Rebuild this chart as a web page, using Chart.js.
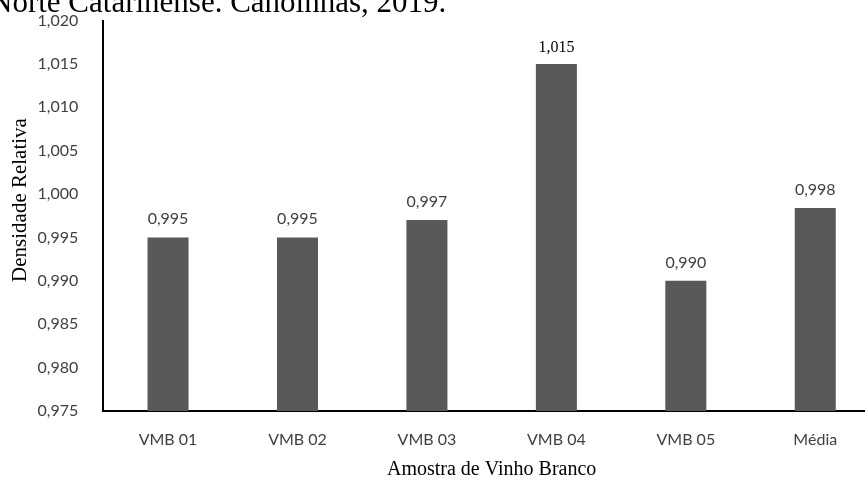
<!DOCTYPE html>
<html>
<head>
<meta charset="utf-8">
<script src="https://cdn.jsdelivr.net/npm/chart.js@4"></script>
<style>
  html, body { margin: 0; padding: 0; background: #fff; overflow: hidden; }
  #wrap { width: 865px; height: 483px; overflow: hidden; position: relative; }
  canvas { position: absolute; left: 0; top: 0; }
</style>
</head>
<body>
<div id="wrap"><canvas id="c" width="880" height="483"></canvas></div>
<script>
// Densidade relativa das amostras de vinho branco
const categories = ['VMB 01', 'VMB 02', 'VMB 03', 'VMB 04', 'VMB 05', 'Média'];
const densidade = [0.995, 0.995, 0.997, 1.015, 0.990, 0.9984];
const yTicks = [0.975, 0.980, 0.985, 0.990, 0.995, 1.000, 1.005, 1.010, 1.015, 1.020];
const headlineText = 'Norte Catarinense. Canoinhas, 2019.';
const yTitle = 'Densidade Relativa';
const xTitle = 'Amostra de Vinho Branco';

// decimal comma, three places
const fmt = v => Number(v).toFixed(3).replace('.', ',');

const sansFont = 'Lato';
const serifFont = '"Liberation Serif", "Times New Roman", serif';

// value written above every bar
const valueLabels = {
  id: 'valueLabels',
  afterDatasetsDraw(chart) {
    const ctx = chart.ctx;
    const meta = chart.getDatasetMeta(0);
    const data = chart.data.datasets[0].data;
    ctx.save();
    ctx.textAlign = 'center';
    ctx.textBaseline = 'alphabetic';
    meta.data.forEach((bar, i) => {
      const serif = i === 3;
      ctx.font = serif ? '16px ' + serifFont : '16px ' + sansFont;
      ctx.fillStyle = serif ? '#000' : '#404040';
      ctx.fillText(fmt(data[i]), bar.x, bar.y - (serif ? 12 : 13));
    });
    ctx.restore();
  }
};

// caption line running off the top edge, and the vertical axis name
const annotations = {
  id: 'annotations',
  afterDraw(chart) {
    const ctx = chart.ctx;
    ctx.save();
    ctx.font = '31px ' + serifFont;
    ctx.fillStyle = '#000';
    ctx.textAlign = 'left';
    ctx.textBaseline = 'alphabetic';
    ctx.fillText(headlineText, -10, 12);

    ctx.translate(20, 200);
    ctx.rotate(-Math.PI / 2);
    ctx.font = '21px ' + serifFont;
    ctx.textAlign = 'center';
    ctx.textBaseline = 'middle';
    ctx.fillText(yTitle, 0, 0);
    ctx.restore();
  }
};

new Chart(document.getElementById('c'), {
  type: 'bar',
  data: {
    labels: categories,
    datasets: [{
      data: densidade,
      backgroundColor: '#595959',
      borderWidth: 0,
      categoryPercentage: 1,
      barPercentage: 0.317
    }]
  },
  options: {
    responsive: false,
    animation: false,
    devicePixelRatio: 1,
    layout: { padding: { top: 20.5, left: 0, right: 0, bottom: 0 } },
    plugins: { legend: { display: false }, tooltip: { enabled: false } },
    scales: {
      x: {
        grid: { display: false },
        border: { display: true, color: '#000', width: 2 },
        ticks: {
          color: '#404040',
          font: { family: sansFont, size: 16 },
          padding: 11,
          maxRotation: 0,
          autoSkip: false
        },
        title: {
          display: true,
          text: xTitle,
          color: '#000',
          font: { family: serifFont, size: 20 },
          padding: { top: 0, bottom: 1 }
        },
        afterFit(s) { s.height = 72; }
      },
      y: {
        min: 0.975,
        max: 1.020,
        grid: { display: false },
        border: { display: true, color: '#000', width: 2 },
        ticks: {
          color: '#404040',
          font: { family: sansFont, size: 16 },
          padding: 17,
          callback: v => fmt(v)
        },
        afterBuildTicks(s) { s.ticks = yTicks.map(v => ({ value: v })); },
        afterFit(s) {
          s.width = 103.3;
          s.paddingTop = 0;
          s.paddingBottom = 0;
        }
      }
    }
  },
  plugins: [valueLabels, annotations]
});
</script>
</body>
</html>
